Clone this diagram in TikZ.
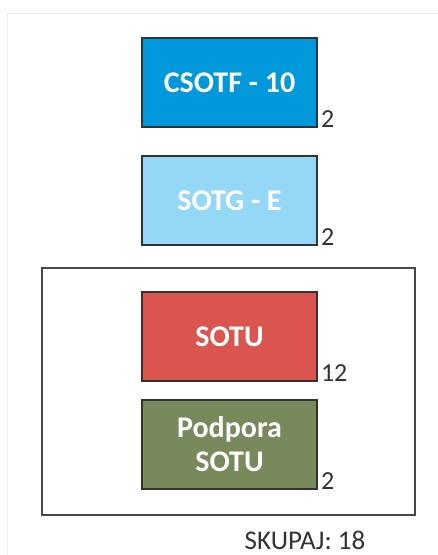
\documentclass[tikz,border=0pt]{standalone}
\usepackage{fontspec}
\setmainfont{Carlito}
\usepackage{tikz}
\definecolor{csotfblue}{RGB}{0,152,218}
\definecolor{sotgblue}{RGB}{148,216,245}
\definecolor{sotured}{RGB}{218,84,80}
\definecolor{podgreen}{RGB}{120,137,91}
\definecolor{rim}{RGB}{51,51,51}
\tikzset{
    unitbox/.style={draw=rim,line width=1.6pt,minimum width=175pt,minimum height=89pt,inner sep=0pt,align=center,text=white,font=\fontsize{30}{34}\selectfont\bfseries},
    countlbl/.style={anchor=base west,inner sep=0pt,xshift=3pt,text=rim,font=\fontsize{26}{30}\selectfont}
}
\begin{document}
\begin{tikzpicture}[x=1pt,y=-1pt]
        \useasboundingbox (0,0) rectangle (438,555);
        \draw[black!7,line width=1pt] (7,555) -- (7,13) -- (438,13);
        \def\X{229.5}
        \foreach\n/\y/\c/\t/\k in {csotf/82.5/csotfblue/{CSOTF - 10}/2,sotg/200.5/sotgblue/{SOTG - E}/2,sotu/336.5/sotured/SOTU/12,podpora/444.5/podgreen/{Podpora\\SOTU}/2}{
            \node[unitbox,fill=\c] (\n) at (\X,\y) {\t};
            \node[countlbl] (\n-count) at (\n.south east) {\k};
        }
        \draw[rim!90,line width=1.3pt] (42,268) rectangle (415,515);
        \node[anchor=base,inner sep=0pt,text=rim,font=\fontsize{27}{31}\selectfont] (total) at (305,549) {SKUPAJ: 18};
\end{tikzpicture}
\end{document}
